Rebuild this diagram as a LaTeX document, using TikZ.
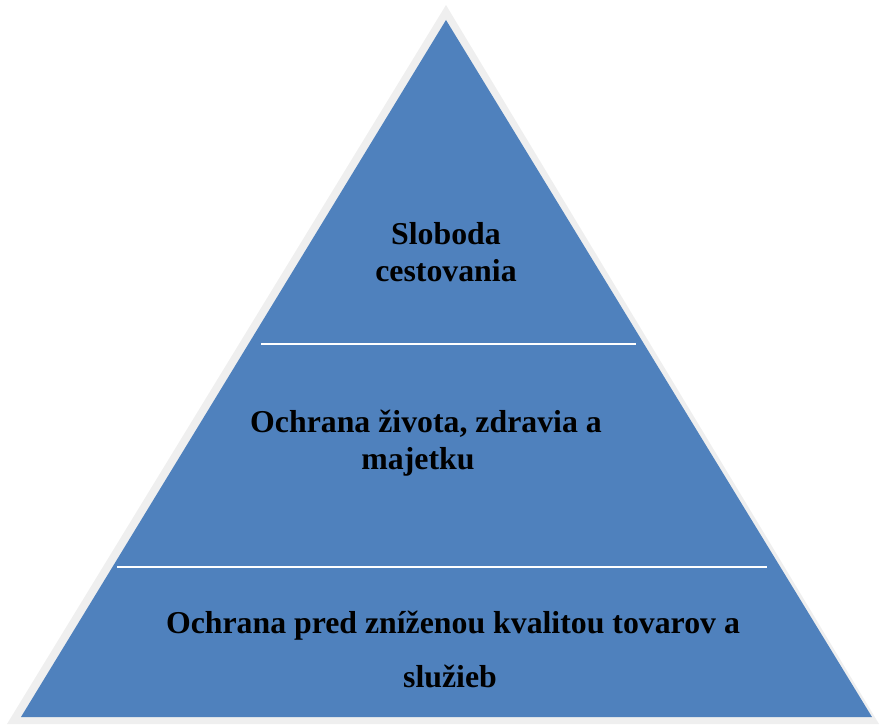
\documentclass[tikz,border=0pt]{standalone}
\usepackage{fontspec}
\setmainfont{Liberation Serif}
\definecolor{tierblue}{HTML}{4F81BD}
\definecolor{framegray}{HTML}{EFEFEF}
\begin{document}
\begin{tikzpicture}[x=1pt,y=-1pt,
  label/.style={inner sep=0pt,anchor=base,text=black,font=\fontsize{31.8}{38}\selectfont\bfseries},
  divider/.style={draw=white,line width=2pt}]
\useasboundingbox (0,0) rectangle (879,727);
% outer light frame
\coordinate (ga) at (446,5);
\coordinate (gl) at (7,724);
\coordinate (gr) at (879,724);
\fill[framegray] (ga) -- (gl) -- (gr) -- cycle;
% blue pyramid
\coordinate (ba) at (446,20);
\coordinate (bl) at (21,717);
\coordinate (br) at (872,717);
\fill[tierblue] (ba) -- (bl) -- (br) -- cycle;
% dividers
\coordinate (d1l) at (261,344);
\coordinate (d1r) at (636,344);
\coordinate (d2l) at (117,567);
\coordinate (d2r) at (767,567);
\draw[divider] (d1l) -- (d1r);
\draw[divider] (d2l) -- (d2r);
% texts
\node[label] (t1a) at (446,245) {Sloboda};
\node[label] (t1b) at (446,282) {cestovania};
\node[label] (t2a) at (426,433) {Ochrana života, zdravia a};
\node[label] (t2b) at (418,470) {majetku};
\node[label] (t3a) at (453,633) {Ochrana pred zníženou kvalitou tovarov a};
\node[label] (t3b) at (450,687) {služieb};
\end{tikzpicture}
\end{document}
